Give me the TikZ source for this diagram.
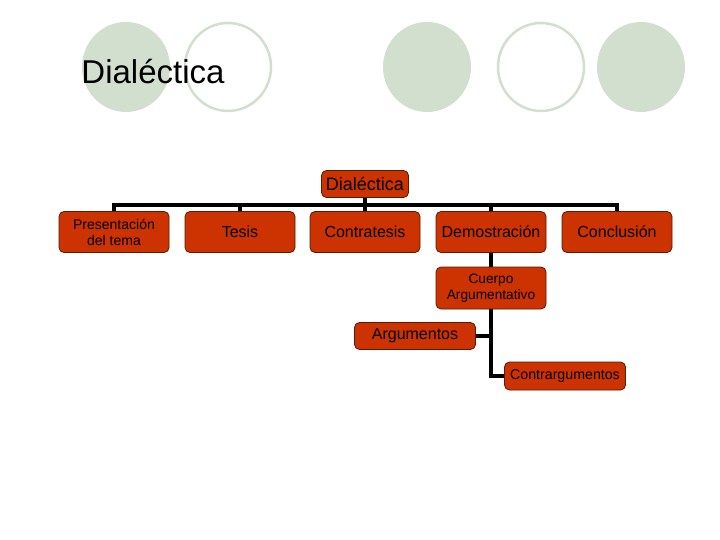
\documentclass[tikz,border=0pt]{standalone}
\usepackage{fontspec}
\setmainfont{Liberation Sans}
\usepackage{xcolor}
\usetikzlibrary{positioning}

\definecolor{sage}{RGB}{210,223,207}
\definecolor{boxred}{RGB}{204,51,0}
\definecolor{boxedge}{RGB}{90,25,0}

\begin{document}
\begin{tikzpicture}[
  x=1pt, y=-1pt,
  dot/.style={fill=sage, draw=none},
  ring/.style={draw=sage, line width=2.5pt, fill=white},
  orgbox/.style={draw=boxedge, fill=boxred, rounded corners=5pt, line width=0.8pt,
                 minimum width=110pt, minimum height=41pt, align=center, inner sep=1pt,
                 font=\fontsize{16}{17}\selectfont},
  smallbox/.style={orgbox, font=\fontsize{14}{16}\selectfont},
  link/.style={line width=3.4pt, black}
]
\useasboundingbox (0,0) rectangle (720,540);

% decorative circles
\fill[dot] (126,67) ellipse (44pt and 45pt);
\draw[ring] (228,67) ellipse (43pt and 44pt);
\fill[dot] (427,67) ellipse (44pt and 45pt);
\draw[ring] (541,67) ellipse (43pt and 44pt);
\fill[dot] (641,67) ellipse (44pt and 45pt);

\node[font=\fontsize{33}{35}\selectfont] (title) at (153,72) {Dialéctica};

% chart
\node[orgbox, minimum width=87pt, minimum height=27pt, font=\fontsize{18}{19}\selectfont] (top) at (365,184) {Dialéctica};
\node[smallbox] (pres) at (114,232) {Presentación\\del tema};
\node[orgbox] (tesis) at (240,232) {Tesis};
\node[orgbox] (contra) at (365,232) {Contratesis};
\node[orgbox] (demo) at (491,232) {Demostración};
\node[orgbox] (concl) at (617,232) {Conclusión};

\node[smallbox, minimum height=42pt, font=\fontsize{13.7}{16}\selectfont] (cuerpo) at (491,288) {Cuerpo\\Argumentativo};
\node[orgbox, minimum width=121pt, minimum height=27pt] (arg) at (415,336) {Argumentos};
\node[orgbox, minimum width=121pt, minimum height=28pt, font=\fontsize{14.2}{15}\selectfont] (contraarg) at (565,376) {Contrargumentos};

\coordinate (bus) at (365,205);
\draw[link] (pres.north) |- (bus) -| (concl.north);
\draw[link] (top.south) -- (top.south |- bus);
\foreach \n in {tesis,contra,demo}
  \draw[link] (\n.north) -- (\n.north |- bus);
\draw[link] (demo.south) -- (cuerpo.north);
\draw[link] (cuerpo.south) |- (contraarg.west);
\draw[link] (arg.east) -- (arg.east -| cuerpo.south);
\end{tikzpicture}
\end{document}
